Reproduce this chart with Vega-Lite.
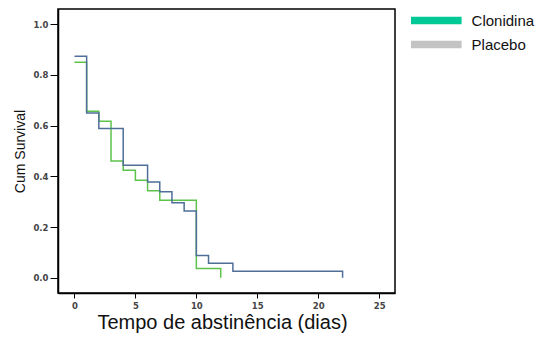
{
  "$schema": "https://vega.github.io/schema/vega-lite/v6.json",
  "autosize": "none",
  "width": 337,
  "height": 284,
  "padding": {"left": 58, "top": 9, "right": 145, "bottom": 52},
  "background": "white",
  "config": {
    "view": {"stroke": "black", "strokeWidth": 1.5},
    "font": "Liberation Sans"
  },
  "data": {
    "values": [
      {"series": "Clonidina", "t": 0, "s": 0.85},
      {"series": "Clonidina", "t": 1, "s": 0.657},
      {"series": "Clonidina", "t": 2, "s": 0.617},
      {"series": "Clonidina", "t": 3, "s": 0.461},
      {"series": "Clonidina", "t": 4, "s": 0.424},
      {"series": "Clonidina", "t": 5, "s": 0.385},
      {"series": "Clonidina", "t": 6, "s": 0.343},
      {"series": "Clonidina", "t": 7, "s": 0.306},
      {"series": "Clonidina", "t": 10, "s": 0.037},
      {"series": "Clonidina", "t": 12, "s": 0.0},
      {"series": "Placebo", "t": 0, "s": 0.874},
      {"series": "Placebo", "t": 1, "s": 0.65},
      {"series": "Placebo", "t": 2, "s": 0.589},
      {"series": "Placebo", "t": 4, "s": 0.444},
      {"series": "Placebo", "t": 6, "s": 0.378},
      {"series": "Placebo", "t": 7, "s": 0.339},
      {"series": "Placebo", "t": 8, "s": 0.296},
      {"series": "Placebo", "t": 9, "s": 0.263},
      {"series": "Placebo", "t": 10, "s": 0.088},
      {"series": "Placebo", "t": 11, "s": 0.057},
      {"series": "Placebo", "t": 13, "s": 0.026},
      {"series": "Placebo", "t": 22, "s": 0.0}
    ]
  },
  "encoding": {
    "x": {
      "field": "t", "type": "quantitative",
      "scale": {"domain": [-1.35, 26.3], "nice": false, "zero": false},
      "axis": {
        "values": [0, 5, 10, 15, 20, 25],
        "title": "Tempo de abstinência (dias)",
        "titleFontSize": 20, "titleFontWeight": "normal", "titleColor": "#111",
        "titlePadding": 3, "titleX": 164,
        "labelFont": "DejaVu Sans", "labelFontSize": 8.5, "labelFontWeight": "bold", "labelColor": "#444",
        "labelPadding": 3,
        "tickSize": 5, "tickColor": "black", "domainColor": "black", "domainWidth": 1.5,
        "grid": false
      }
    },
    "y": {
      "field": "s", "type": "quantitative",
      "scale": {"domain": [-0.06, 1.06], "nice": false, "zero": false},
      "axis": {
        "values": [0, 0.2, 0.4, 0.6, 0.8, 1.0],
        "format": ".1f",
        "title": "Cum Survival",
        "titleFontSize": 14, "titleFontWeight": "normal", "titleColor": "#111",
        "titlePadding": 5,
        "labelFont": "DejaVu Sans", "labelFontSize": 8.5, "labelFontWeight": "bold", "labelColor": "#444",
        "labelPadding": 2,
        "tickSize": 8, "tickColor": "black", "domainColor": "black", "domainWidth": 1.5,
        "grid": false
      }
    }
  },
  "layer": [
    {
      "transform": [{"filter": "datum.series === 'Clonidina'"}],
      "mark": {"type": "line", "interpolate": "step-after", "strokeWidth": 1.5, "stroke": "#5cc24a"},
      "encoding": {}
    },
    {
      "transform": [{"filter": "datum.series === 'Placebo'"}],
      "mark": {"type": "line", "interpolate": "step-after", "strokeWidth": 1.5, "stroke": "#4f6f98"},
      "encoding": {}
    },
    {
      "transform": [{"filter": "datum.t < -100"}],
      "mark": {"type": "point", "filled": true},
      "encoding": {
        "fill": {
          "field": "series", "type": "nominal",
          "scale": {"domain": ["Clonidina", "Placebo"], "range": ["#00c896", "#c3c3c3"]},
          "legend": {
            "title": null,
            "orient": "none",
            "legendX": 366.8,
            "legendY": 0,
            "symbolType": "M-2.2,-0.33H2.2V0.33H-2.2Z",
            "symbolSize": 529,
            "symbolOpacity": 1,
            "symbolStrokeWidth": 0,
            "labelFontSize": 15,
            "labelColor": "#111",
            "labelOffset": 23.8,
            "rowPadding": 4
          }
        }
      }
    }
  ]
}
